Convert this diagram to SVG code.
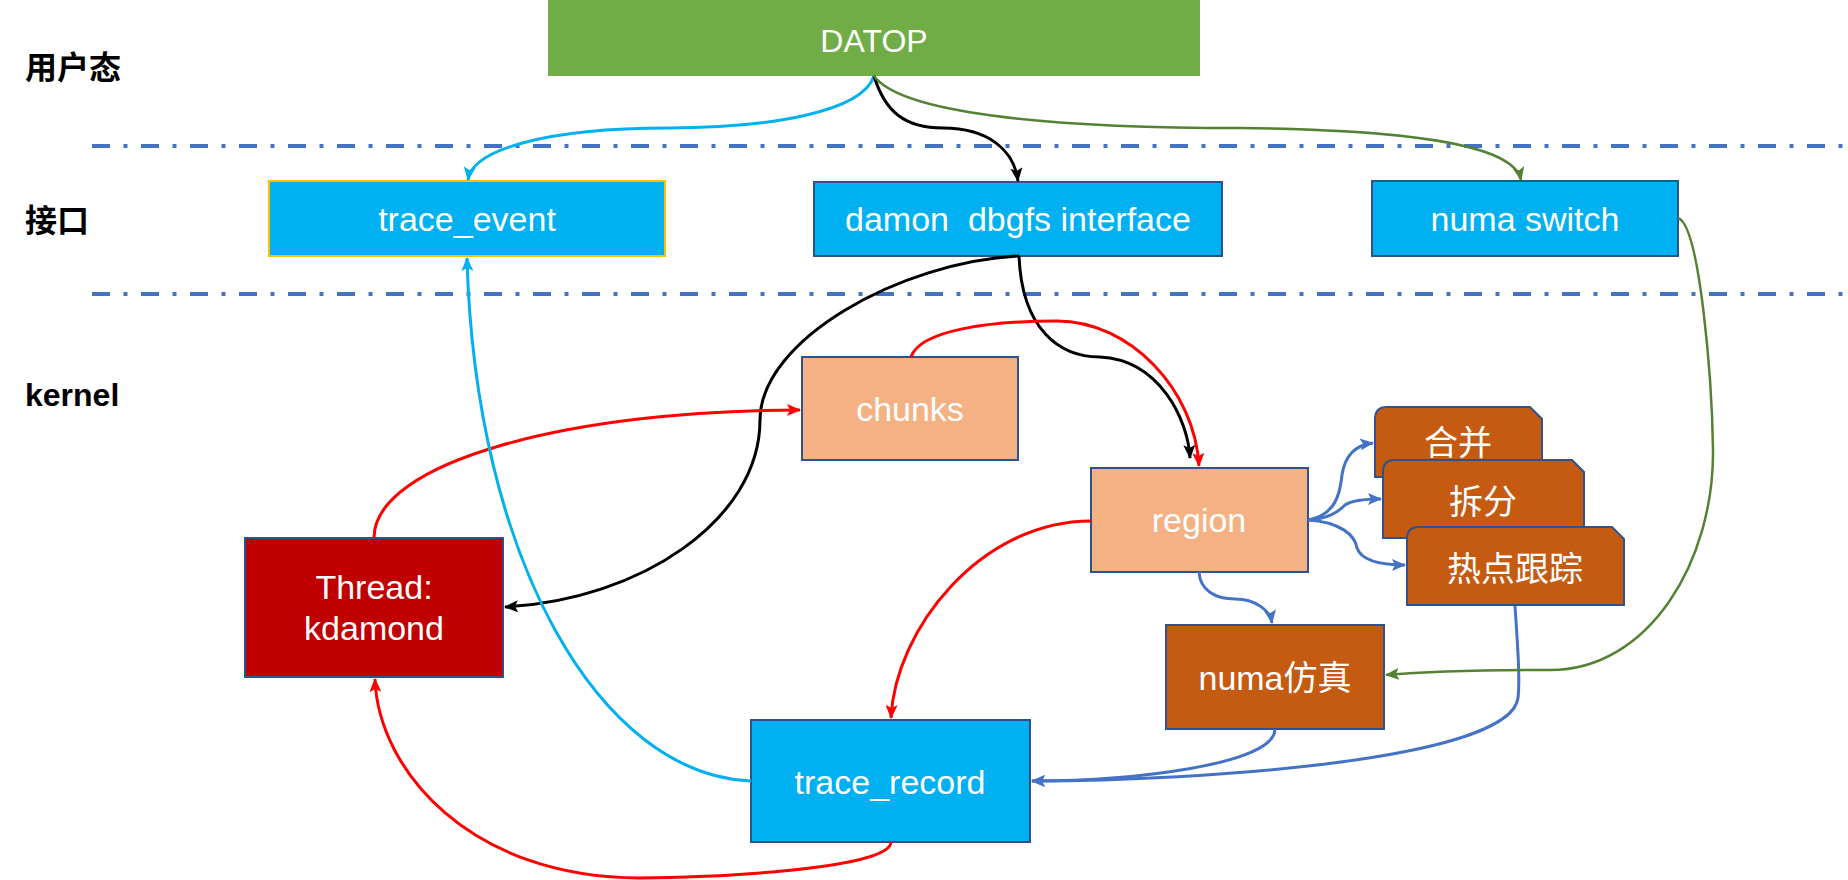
<svg xmlns="http://www.w3.org/2000/svg" width="1848" height="880" viewBox="0 0 1848 880">
<style>
.lbl{font-family:"Liberation Sans","Noto Sans CJK SC",sans-serif;font-weight:bold;font-size:32px;fill:#000}
.t{font-family:"Liberation Sans","Noto Sans CJK SC",sans-serif;font-size:34px;fill:#fff;text-anchor:middle}
.cjk{font-family:"Noto Sans CJK SC","Liberation Sans",sans-serif;font-size:34px;fill:#fff;text-anchor:middle}
.sep{stroke:#4472C4;stroke-width:4;stroke-dasharray:18 13.5 4 13.5;fill:none}
.bx{stroke:#2F528F;stroke-width:2}
.c{fill:none;stroke-width:3}
.cb{stroke:#00B0F0}
.ck{stroke:#000}
.cg{stroke:#548235;stroke-width:2.5}
.cr{stroke:#FF0000}
.cu{stroke:#4472C4}
</style>
<defs>
<marker id="aB" markerUnits="userSpaceOnUse" markerWidth="14" markerHeight="12" refX="13" refY="6" orient="auto"><path d="M0,0 L14,6 L0,12 L3,6 Z" fill="#00B0F0"/></marker>
<marker id="aK" markerUnits="userSpaceOnUse" markerWidth="14" markerHeight="12" refX="13" refY="6" orient="auto"><path d="M0,0 L14,6 L0,12 L3,6 Z" fill="#000"/></marker>
<marker id="aG" markerUnits="userSpaceOnUse" markerWidth="14" markerHeight="12" refX="13" refY="6" orient="auto"><path d="M0,0 L14,6 L0,12 L3,6 Z" fill="#548235"/></marker>
<marker id="aR" markerUnits="userSpaceOnUse" markerWidth="14" markerHeight="12" refX="13" refY="6" orient="auto"><path d="M0,0 L14,6 L0,12 L3,6 Z" fill="#FF0000"/></marker>
<marker id="aU" markerUnits="userSpaceOnUse" markerWidth="14" markerHeight="12" refX="13" refY="6" orient="auto"><path d="M0,0 L14,6 L0,12 L3,6 Z" fill="#4472C4"/></marker>
</defs>
<rect width="1848" height="880" fill="#fff"/>

<g id="layers">
<line class="sep" x1="92" y1="146" x2="1848" y2="146"/>
<line class="sep" x1="92" y1="294" x2="1848" y2="294"/>
<text class="lbl" x="25" y="79">用户态</text>
<text class="lbl" x="25" y="232">接口</text>
<text class="lbl" x="25" y="406">kernel</text>
</g>

<g id="datop">
<rect x="548" y="0" width="652" height="76" fill="#70AD47"/>
<text class="t" x="874" y="52" style="font-size:32px">DATOP</text>
</g>
<g id="trace_event">
<rect x="269" y="181" width="396" height="75" fill="#00B0F0" stroke="#FFC000" stroke-width="2"/>
<text class="t" x="467" y="231">trace_event</text>
</g>
<g id="damon">
<rect class="bx" x="814" y="182" width="408" height="74" fill="#00B0F0"/>
<text class="t" x="1018" y="231" xml:space="preserve">damon  dbgfs interface</text>
</g>
<g id="numa_switch">
<rect class="bx" x="1372" y="181" width="306" height="75" fill="#00B0F0"/>
<text class="t" x="1525" y="231">numa switch</text>
</g>
<g id="chunks">
<rect class="bx" x="802" y="357" width="216" height="103" fill="#F4B183"/>
<text class="t" x="910" y="421">chunks</text>
</g>
<g id="region">
<rect class="bx" x="1091" y="468" width="217" height="104" fill="#F4B183"/>
<text class="t" x="1199" y="532">region</text>
</g>
<g id="merge">
<path class="bx" d="M1387,407 L1530,407 L1542,419 L1542,477 L1375,477 L1375,419 Q1375,407 1387,407 Z" fill="#C55A11"/>
<text class="cjk" x="1458" y="455">合并</text>
</g>
<g id="split">
<path class="bx" d="M1395,460 L1572,460 L1584,472 L1584,538 L1383,538 L1383,472 Q1383,460 1395,460 Z" fill="#C55A11"/>
<text class="cjk" x="1483" y="514">拆分</text>
</g>
<g id="hotspot">
<path class="bx" d="M1419,527 L1612,527 L1624,539 L1624,605 L1407,605 L1407,539 Q1407,527 1419,527 Z" fill="#C55A11"/>
<text class="cjk" x="1515" y="581">热点跟踪</text>
</g>
<g id="numa_sim">
<rect class="bx" x="1166" y="625" width="218" height="104" fill="#C55A11"/>
<text class="t" x="1275" y="690">numa仿真</text>
</g>
<g id="kdamond">
<rect class="bx" x="245" y="538" width="258" height="139" fill="#C00000"/>
<text class="t" x="374" y="599">Thread:</text>
<text class="t" x="374" y="640">kdamond</text>
</g>
<g id="trace_record">
<rect class="bx" x="751" y="720" width="279" height="122" fill="#00B0F0"/>
<text class="t" x="890" y="794">trace_record</text>
</g>

<g id="connectors">
<path class="c cb" d="M874,76 C862,112 770,128 668,128 C545,128 472,150 468,180" marker-end="url(#aB)"/>
<path class="c ck" d="M874,76 C885,112 905,128 943,128 C988,128 1014,150 1018,181" marker-end="url(#aK)"/>
<path class="c cg" d="M874,76 C900,112 1040,128 1240,128 C1440,130 1515,150 1521,180" marker-end="url(#aG)"/>
<path class="c ck" d="M1019,256 C900,262 760,340 760,420 C760,520 640,600 505,607" marker-end="url(#aK)"/>
<path class="c ck" d="M1019,256 C1022,330 1060,357 1100,357 C1160,360 1188,420 1190,458" marker-end="url(#aK)"/>
<path class="c cr" d="M911,357 C920,330 990,321 1057,321 C1130,321 1195,390 1199,466" marker-end="url(#aR)"/>
<path class="c cr" d="M374,538 C374,462 570,410 800,410" marker-end="url(#aR)"/>
<path class="c cr" d="M1091,521 C980,521 895,630 891,718" marker-end="url(#aR)"/>
<path class="c cr" d="M891,842 C891,870 700,878 640,878 C470,878 378,770 375,679" marker-end="url(#aR)"/>
<path class="c cb" d="M751,781 C600,775 475,560 467,258" marker-end="url(#aB)"/>
<path class="c cu" d="M1308,520 C1335,515 1340,495 1342,475 C1345,455 1355,445 1373,443" marker-end="url(#aU)"/>
<path class="c cu" d="M1308,520 C1330,518 1338,512 1345,505 C1352,500 1365,499 1381,499" marker-end="url(#aU)"/>
<path class="c cu" d="M1308,520 C1340,522 1355,535 1357,548 C1362,562 1385,565 1405,565" marker-end="url(#aU)"/>
<path class="c cu" d="M1199,572 C1200,590 1215,599 1235,599 C1255,599 1270,610 1272,623" marker-end="url(#aU)"/>
<path class="c cu" d="M1275,729 C1275,765 1130,781 1032,781" marker-end="url(#aU)"/>
<path class="c cu" d="M1515,606 C1518,650 1520,680 1518,698 C1510,760 1200,781 1032,781" marker-end="url(#aU)"/>
<path class="c cg" d="M1678,218 C1700,225 1712,380 1713,450 C1714,560 1650,670 1550,670 C1480,670 1420,672 1386,675" marker-end="url(#aG)"/>
</g>
</svg>
